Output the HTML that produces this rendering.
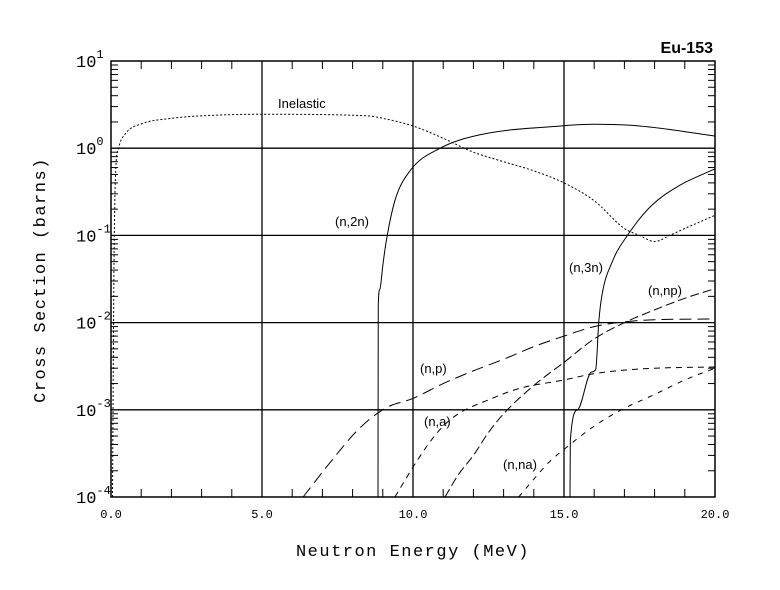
<!DOCTYPE html>
<html><head><meta charset="utf-8"><style>
html,body{margin:0;padding:0;background:#fff;}
svg{display:block;font-family:"Liberation Sans",sans-serif;}
</style></head><body>
<svg id="chart" width="780" height="590" viewBox="0 0 780 590" xmlns="http://www.w3.org/2000/svg"></svg>
<script>
const xTicks=[0,5,10,15,20];
const xTickLabels=["0.0","5.0","10.0","15.0","20.0"];
const yDecades=[1,0,-1,-2,-3,-4];
const inelE=[0.05,0.1,0.15,0.25,0.5,1,2,3,5,8.5,9,10,11,12,13,14,15,16,17,17.5,18,18.5,19,20];
const inelV=[1e-4,0.05,0.5,1.0,1.5,1.9,2.2,2.35,2.45,2.35,2.2,1.8,1.3,0.9,0.7,0.55,0.4,0.25,0.12,0.1,0.085,0.1,0.12,0.17];
const n2nE=[8.84,8.85,8.9,9.0,9.1,9.4,9.9,10.9,12.2,14.9,16,17.5,20];
const n2nV=[1e-4,0.016,0.024,0.045,0.08,0.25,0.55,1.0,1.42,1.8,1.88,1.8,1.38];
const n3nE=[15.2,15.21,15.45,15.9,16.05,16.15,16.25,16.6,17.1,17.9,18.8,20];
const n3nV=[1e-4,4.5e-4,1e-3,2.7e-3,2.9e-3,0.01,0.02,0.05,0.1,0.22,0.37,0.58];
const npE=[6.36,7.3,8.2,9.1,10,11,12,13,14,15,16,17,18,20];
const npV=[1e-4,2.6e-4,6e-4,1.05e-3,1.35e-3,2e-3,2.8e-3,3.8e-3,5.3e-3,7e-3,9e-3,1.02e-2,1.08e-2,1.1e-2];
const naE=[9.4,10,10.5,11,11.5,12.5,13.5,15,16,17,18,20];
const naV=[1e-4,2.2e-4,4e-4,6.5e-4,9e-4,1.3e-3,1.75e-3,2.2e-3,2.6e-3,2.85e-3,3e-3,3.1e-3];
const nnpE=[11.06,11.5,12,12.5,13,14,15,16,17,18,19,20];
const nnpV=[1e-4,1.8e-4,3e-4,5.5e-4,9e-4,1.9e-3,3.5e-3,6.5e-3,1e-2,1.4e-2,1.9e-2,2.45e-2];
const nnaE=[13.5,14,14.5,15.2,16,16.9,18,19,20];
const nnaV=[1e-4,1.6e-4,2.5e-4,4e-4,6.5e-4,1e-3,1.5e-3,2.2e-3,3e-3];

const L=111,R=715,T=61,B=497;
const X=e=>L+(e/20)*(R-L);
const Y=v=>T+(1-Math.log10(v))/5*(B-T);
const svg=document.getElementById('chart');
const NS='http://www.w3.org/2000/svg';
function mk(tag,attrs,parent){const el=document.createElementNS(NS,tag);for(const k in attrs)el.setAttribute(k,attrs[k]);(parent||svg).appendChild(el);return el;}

const frame=mk('rect',{x:L,y:T,width:R-L,height:B-T,fill:'none',stroke:'#000','stroke-width':1.5});


xTicks.slice(1,-1).forEach(e=>{const g=mk('line',{x1:X(e),x2:X(e),y1:T,y2:B,stroke:'#000','stroke-width':1.3});

});
yDecades.slice(1,-1).forEach(d=>{const g=mk('line',{x1:L,x2:R,y1:Y(Math.pow(10,d)),y2:Y(Math.pow(10,d)),stroke:'#000','stroke-width':1.3});

});
for(let e=1;e<20;e++){if(e%5===0)continue;
 const t1=mk('line',{x1:X(e),x2:X(e),y1:B,y2:B-8,stroke:'#000'});
 
 
 const t2=mk('line',{x1:X(e),x2:X(e),y1:T,y2:T+8,stroke:'#000'});
 
 }
for(let d=-4;d<1;d++){for(let m=2;m<10;m++){const y=Y(m*Math.pow(10,d));
 const t1=mk('line',{x1:L,x2:L+7,y1:y,y2:y,stroke:'#000'});
 
 
 const t2=mk('line',{x1:R,x2:R-7,y1:y,y2:y,stroke:'#000'});
 
 }}
xTicks.forEach((e,i)=>{const t=mk('text',{x:X(e),y:518,'text-anchor':'middle','font-size':12,'font-family':'Liberation Mono, monospace'});t.textContent=xTickLabels[i];
 
 });
yDecades.forEach(d=>{const t=mk('text',{x:76,y:Y(Math.pow(10,d))+6,'font-size':17,'font-family':'Liberation Mono, monospace'});
 
 
 t.textContent='10';
 const s=mk('tspan',{dy:-9,'font-size':12},t);s.textContent=(d<0?'-':'')+Math.abs(d);});
const xt=mk('text',{x:413,y:556,'text-anchor':'middle','font-size':17,'font-family':'Liberation Mono, monospace','letter-spacing':'1.5'});xt.textContent='Neutron Energy (MeV)';


const yt=mk('text',{x:0,y:0,'text-anchor':'middle','font-size':17,'font-family':'Liberation Mono, monospace','letter-spacing':'1.5',transform:'translate(45,280) rotate(-90)'});yt.textContent='Cross Section (barns)';


const tt=mk('text',{x:713,y:53,'text-anchor':'end','font-size':16,'font-weight':'bold'});tt.textContent='Eu-153';



function smoothPath(E,V){
 const xs=E.map(X), ys=V.map(Y), n=xs.length;
 const d=[],m=[];
 for(let i=0;i<n-1;i++)d.push((ys[i+1]-ys[i])/(xs[i+1]-xs[i]));
 m[0]=d[0];m[n-1]=d[n-2];
 for(let i=1;i<n-1;i++){m[i]=(d[i-1]*d[i]<=0)?0:(d[i-1]+d[i])/2;}
 for(let i=0;i<n-1;i++){if(d[i]===0){m[i]=0;m[i+1]=0;continue;}
  const a=m[i]/d[i],b=m[i+1]/d[i],s=a*a+b*b;
  if(s>9){const t=3/Math.sqrt(s);m[i]=t*a*d[i];m[i+1]=t*b*d[i];}}
 let p='M'+xs[0].toFixed(1)+','+ys[0].toFixed(1);
 for(let i=0;i<n-1;i++){const h=xs[i+1]-xs[i];
  p+='C'+(xs[i]+h/3).toFixed(2)+','+(ys[i]+m[i]*h/3).toFixed(2)+' '+(xs[i+1]-h/3).toFixed(2)+','+(ys[i+1]-m[i+1]*h/3).toFixed(2)+' '+xs[i+1].toFixed(2)+','+ys[i+1].toFixed(2);}
 return p;}
function series(E,V,dash,name){
 const p=mk('path',{d:smoothPath(E,V),fill:'none',stroke:'#000','stroke-width':1,'stroke-dasharray':dash});
 
 }
series(inelE,inelV,'2,2','inelastic-line');
series(n2nE,n2nV,'none','n2n-line');
series(n3nE,n3nV,'none','n3n-line');
series(npE,npV,'12,6','np-line');
series(naE,naV,'6,5','na-line');
series(nnpE,nnpV,'9,4','nnp-line');
series(nnaE,nnaV,'5,6','nna-line');
[['Inelastic',278,108,'inelastic-label'],['(n,2n)',335,226,'n2n-label'],['(n,3n)',569,272,'n3n-label'],['(n,np)',648,295,'nnp-label'],['(n,p)',420,373,'np-label'],['(n,a)',424,426,'na-label'],['(n,na)',503,469,'nna-label']].forEach(a=>{
 const t=mk('text',{x:a[1],y:a[2],'font-size':13});t.textContent=a[0];
 
 });
</script>
</body></html>
